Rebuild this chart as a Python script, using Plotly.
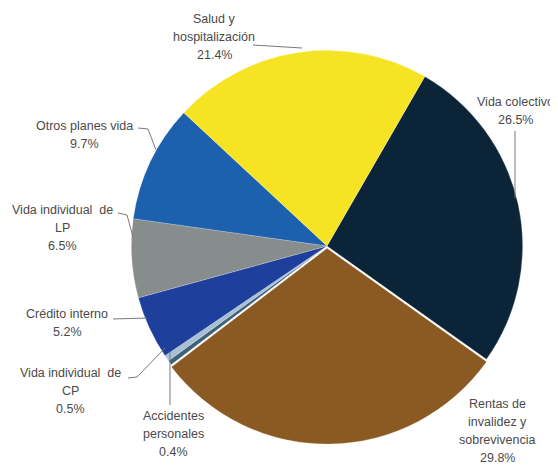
import plotly.graph_objects as go

labels = ["Vida colectivo", "Rentas de invalidez y sobrevivencia", "Accidentes personales",
          "Vida individual de CP", "Crédito interno", "Vida individual de LP",
          "Otros planes vida", "Salud y hospitalización"]
values = [26.5, 29.8, 0.4, 0.5, 5.2, 6.5, 9.7, 21.4]
colors = ["#0c2437", "#8b5a23", "#3d6277", "#a9bfd6", "#1f3f9c", "#878d8d", "#1d60ad", "#f6e424"]
pulls = [0, 0.012, 0, 0, 0, 0, 0, 0]
label_lines = [["Vida colectivo", "26.5%"],
               ["Rentas de", "invalidez y", "sobrevivencia", "29.8%"],
               ["Accidentes", "personales", "0.4%"],
               ["Vida individual  de", "CP", "0.5%"],
               ["Crédito interno", "5.2%"],
               ["Vida individual  de", "LP", "6.5%"],
               ["Otros planes vida", "9.7%"],
               ["Salud y", "hospitalización", "21.4%"]]

W, H = 558, 468
OFF = 8  # page body margin offset
# label block (centre x, first-line y) in page px
label_pos = [(515, 102), (497, 404), (173, 416), (70, 373), (67, 314), (62, 210), (84, 126), (214, 19)]
LINE = 18
leaders = [
    [(515, 131), (515, 198)],
    None,
    [(170, 405), (170, 352)],
    [(128, 378), (137, 377), (165, 348)],
    [(113, 319), (147, 318)],
    [(118, 213), (127, 215), (133, 237)],
    [(138, 128), (148, 129), (156, 150)],
    [(253, 45), (302, 48)],
]

cx, cy, half = 327, 246, 198


def px(x):
    return (x - OFF) / W


def py(y):
    return (H - (y - OFF)) / H


fig = go.Figure(go.Pie(
    labels=labels, values=values, sort=False, direction="clockwise", rotation=30,
    marker=dict(colors=colors, line=dict(color="rgba(255,255,255,0.35)", width=0.6)),
    pull=pulls, textinfo="none", hoverinfo="label+percent",
    domain=dict(x=[px(cx - half), px(cx + half)], y=[py(cy + half), py(cy - half)]),
))

annotations = []
for lines, (x, y) in zip(label_lines, label_pos):
    for i, t in enumerate(lines):
        annotations.append(dict(text=t, x=px(x), y=py(y + i * LINE), xref="paper", yref="paper",
                                xanchor="center", yanchor="middle", showarrow=False,
                                font=dict(family="Liberation Sans, Arial", size=12.5, color="#4a4a4a")))
shapes = []
for pts in leaders:
    if not pts:
        continue
    path = "M " + " L ".join(f"{px(x):.4f},{py(y):.4f}" for x, y in pts)
    shapes.append(dict(type="path", path=path, xref="paper", yref="paper",
                       line=dict(color="#7a7a7a", width=1)))

fig.update_layout(width=W, height=H, margin=dict(l=0, r=0, t=0, b=0),
                  showlegend=False, paper_bgcolor="white", plot_bgcolor="white",
                  annotations=annotations, shapes=shapes)
fig.write_html("out.html")
